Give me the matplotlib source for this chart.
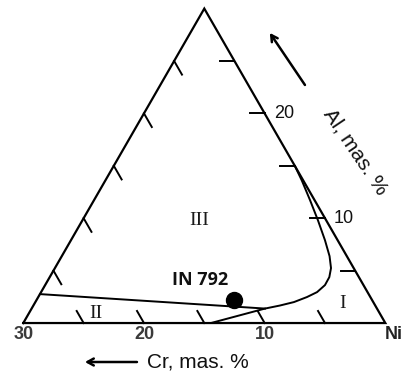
import numpy as np
import matplotlib
matplotlib.use('Agg')
import matplotlib.pyplot as plt

# Ni corner of the Ni-Cr-Al system, triangle side = 30 mass %
side = 30
cr_ticks = [5, 10, 15, 20, 25]
al_ticks = [5, 10, 15, 20, 25]
left_ticks = [5, 10, 15, 20, 25]
cr_label_vals = [30, 20, 10]
cr_label_txt = ['30', '20', '10']
al_label_vals = [20, 10]
al_label_txt = ['20', '10']

# boundary of region I (from Ni-Al edge down to Ni-Cr edge), (Cr, Al) mass %
phase_I_cr = [0.0, 0.12, 0.38, 0.68, 1.05, 1.43, 1.88, 2.45, 3.19, 4.18, 5.25, 6.57, 7.9, 9.28, 14.45]
phase_I_al = [15.0, 13.6, 11.7, 9.81, 7.9, 6.38, 5.24, 4.38, 3.62, 2.95, 2.48, 2.0, 1.67, 1.38, 0.0]
# upper boundary of region II
phase_II_cr = [27.24, 9.28]
phase_II_al = [2.76, 1.38]

alloy_name = 'IN 792'
alloy_cr = [11.44]
alloy_al = [2.19]

region_names = ['III', 'II', 'I']
region_cr = [10.54, 23.49, 2.56]
region_al = [9.81, 0.95, 1.9]


def tern(cr, al):
    cr = np.asarray(cr, float)
    al = np.asarray(al, float)
    return side - cr - al / 2.0, al * np.sqrt(3) / 2.0


fig = plt.figure(figsize=(4.08, 3.85), dpi=100)
ax = fig.add_axes([0, 0, 1, 1])
ax.set_xlim(-1.93, 31.88)
ax.set_ylim(-5.12, 26.69)
ax.axis('off')

lw_frame = 1.6
# triangle
tx, ty = tern([side, 0, 0, side], [0, 0, side, 0])
ax.plot(tx, ty, color='black', lw=lw_frame, solid_joinstyle='miter')

# ticks
tick_lw = 1.4
for c in cr_ticks:
    x, y = tern([c, c], [0, 1.15])
    ax.plot(x, y, color='black', lw=tick_lw)
for a in al_ticks:
    x, y = tern([0, 1.2], [a, a])
    ax.plot(x, y, color='black', lw=tick_lw)
for a in left_ticks:
    x, y = tern([side - a, side - a], [a, a - 1.3])
    ax.plot(x, y, color='black', lw=tick_lw)

# phase boundaries
x, y = tern(phase_I_cr, phase_I_al)
ax.plot(x, y, color='black', lw=1.4, solid_capstyle='round')
x, y = tern(phase_II_cr, phase_II_al)
ax.plot(x, y, color='black', lw=1.4)

# alloy point
x, y = tern(alloy_cr, alloy_al)
ax.plot(x, y, 'o', color='black', ms=11.5)
lx, ly = tern(13.31, 4.1)
ax.text(lx, ly, alloy_name, ha='center', va='center', fontsize=13,
        fontweight='bold', family='Open Sans', color='#111111')

# region labels
for name, c, a in zip(region_names, region_cr, region_al):
    x, y = tern(c, a)
    ax.text(x, y, name, ha='center', va='center', fontsize=14,
            family='Liberation Serif', color='#1a1a1a')

# axis labels along bottom
for v, t in zip(cr_label_vals, cr_label_txt):
    x, y = tern(v, 0)
    ax.annotate(t, (x, y), xytext=(0, -8), textcoords='offset points',
                ha='center', va='center', fontsize=13, fontweight='bold',
                family='Liberation Sans', color='#3a3a3a')
x, y = tern(0, 0)
ax.annotate('Ni', (x, y), xytext=(6, -8), textcoords='offset points',
            ha='center', va='center', fontsize=13, fontweight='bold',
            family='Liberation Sans', color='#222222')
for v, t in zip(al_label_vals, al_label_txt):
    x, y = tern(0, v)
    ax.annotate(t, (x, y), xytext=(6.5, 0), textcoords='offset points',
                ha='left', va='center', fontsize=13,
                family='Liberation Sans', color='#111111')

# axis titles and arrows
ax.text(10.25, -3.22, 'Cr, mas. %', ha='left', va='center', fontsize=15,
        family='Liberation Sans', color='#111111')
ax.annotate('', xy=(5.11, -3.22), xytext=(9.42, -3.22),
            arrowprops=dict(arrowstyle='->,head_length=0.45,head_width=0.25',
                            lw=1.8, color='black', shrinkA=0, shrinkB=0))
ax.text(27.49, 14.13, 'Al, mas. %', ha='center', va='center', fontsize=15,
        rotation=-56, rotation_mode='anchor', family='Liberation Sans',
        color='#111111')
ax.annotate('', xy=(20.43, 23.97), xytext=(23.34, 19.67),
            arrowprops=dict(arrowstyle='->,head_length=0.45,head_width=0.25',
                            lw=1.8, color='black', shrinkA=0, shrinkB=0))

fig.savefig('out.png', dpi=100)
